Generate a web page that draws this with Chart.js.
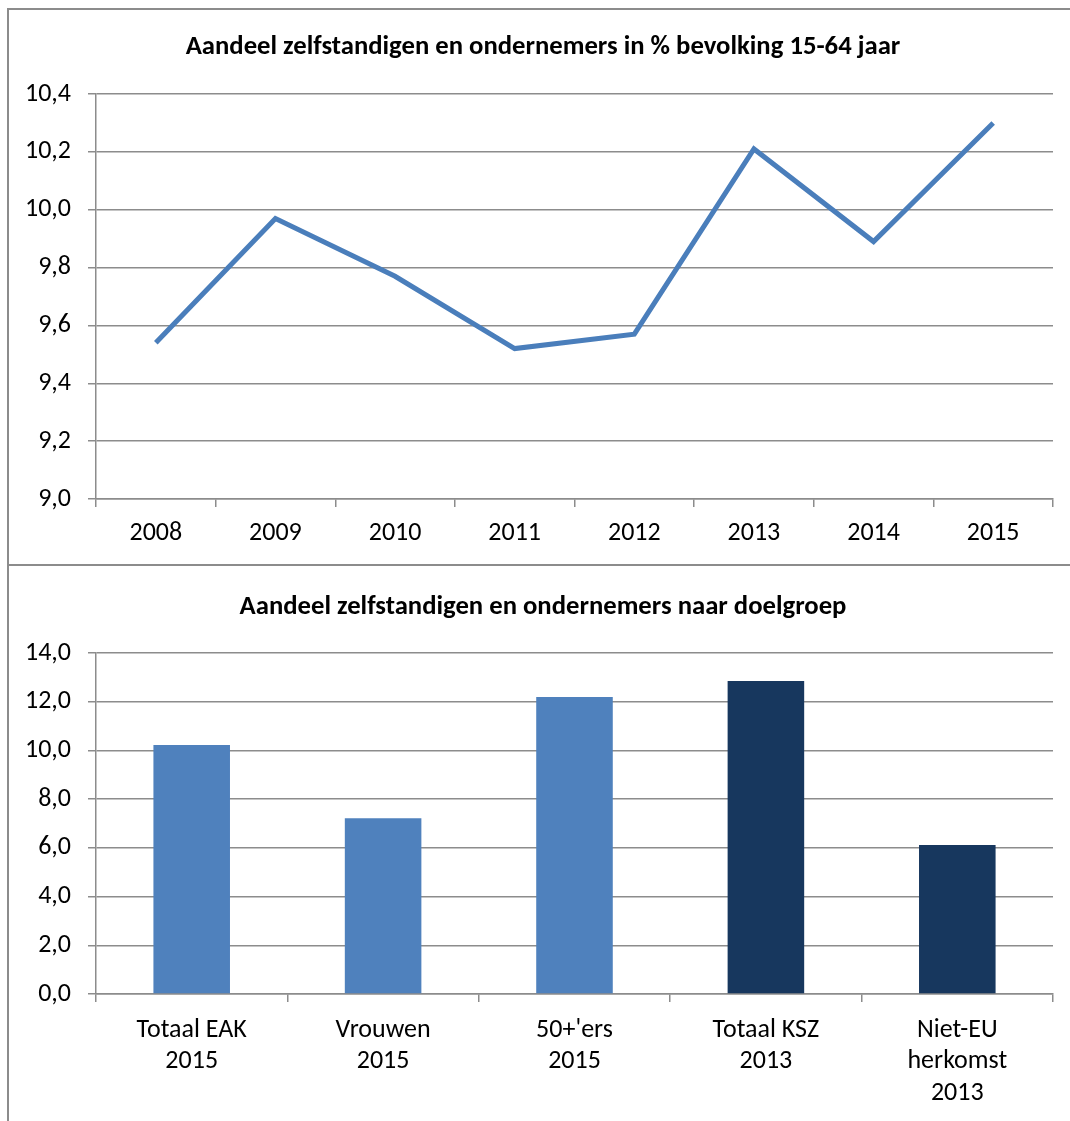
<!DOCTYPE html>
<html><head><meta charset="utf-8">
<script src="https://cdn.jsdelivr.net/npm/chart.js@4/dist/chart.umd.min.js"></script>
<style>
html,body{margin:0;padding:0;background:#fff;}
body{width:1070px;height:1121px;position:relative;overflow:hidden;}
#frame{position:absolute;left:7px;top:8px;width:1100px;height:1200px;border:2px solid #8c8c8c;box-sizing:border-box;}
#sep{position:absolute;left:7px;top:564px;width:1100px;height:2px;background:#8c8c8c;}
#c1{position:absolute;left:0;top:0;}
#c2{position:absolute;left:0;top:566px;}
</style></head>
<body>
<div id="frame"></div><div id="sep"></div>
<canvas id="c1" width="1086" height="566"></canvas>
<canvas id="c2" width="1086" height="555"></canvas>
<script>
const title1 = 'Aandeel zelfstandigen en ondernemers in % bevolking 15-64 jaar';
const years = ['2008','2009','2010','2011','2012','2013','2014','2015'];
const shareValues = [9.54, 9.97, 9.77, 9.52, 9.57, 10.21, 9.89, 10.30];

const title2 = 'Aandeel zelfstandigen en ondernemers naar doelgroep';
const groups = [['Totaal EAK','2015'], ['Vrouwen','2015'], ["50+'ers",'2015'], ['Totaal KSZ','2013'], ['Niet-EU','herkomst','2013']];
const groupValues = [10.22, 7.22, 12.19, 12.85, 6.12];
const groupColors = ['#4F81BD','#4F81BD','#4F81BD','#17375E','#17375E'];

const FONT = "Carlito, Lato, 'Open Sans', sans-serif";
const GRID = '#8c8c8c';
const TICK_SIZE = 26;
const TITLE_SIZE = 26.7;
const fmt = v => Number(v).toFixed(1).replace('.', ',');

Chart.defaults.font.family = FONT;
Chart.defaults.color = '#000';

// invisible right-hand spacer axis so the title centres like the original
const spacer = {
  type: 'linear', position: 'right', display: true,
  grid: { display: false, drawTicks: false }, ticks: { display: false }, border: { display: false },
  afterFit: s => { s.width = 33; }
};

new Chart(document.getElementById('c1'), {
  type: 'line',
  data: { labels: years, datasets: [{ data: shareValues, borderColor: '#4A7EBB', borderWidth: 5, pointRadius: 0, tension: 0, fill: false }] },
  options: {
    responsive: false, animation: false,
    layout: { padding: 0 },
    plugins: {
      legend: { display: false }, tooltip: { enabled: false },
      title: { display: true, text: title1, color: '#000', font: { size: TITLE_SIZE, weight: 'bold', family: FONT, lineHeight: 1.2 }, padding: { top: 31, bottom: 31 } }
    },
    scales: {
      y: {
        min: 9, max: 10.4,
        ticks: { stepSize: 0.2, callback: fmt, font: { size: TICK_SIZE }, color: '#000', padding: 17 },
        grid: { color: GRID, lineWidth: 1.5, tickLength: 8 },
        border: { color: GRID, width: 1.5 },
        afterFit: s => { s.width = 96; }
      },
      yr: spacer,
      x: {
        offset: true,
        ticks: { font: { size: TICK_SIZE, lineHeight: 1.2 }, color: '#000', padding: 11, autoSkip: false, maxRotation: 0 },
        grid: { offset: true, drawOnChartArea: false, tickLength: 8, color: GRID, lineWidth: 1.5 },
        border: { color: GRID, width: 1.5 },
        afterFit: s => { s.height = 67; }
      }
    }
  }
});

new Chart(document.getElementById('c2'), {
  type: 'bar',
  data: { labels: groups, datasets: [{ data: groupValues, backgroundColor: groupColors, barPercentage: 0.4, categoryPercentage: 1.0 }] },
  options: {
    responsive: false, animation: false,
    layout: { padding: 0 },
    plugins: {
      legend: { display: false }, tooltip: { enabled: false },
      title: { display: true, text: title2, color: '#000', font: { size: TITLE_SIZE, weight: 'bold', family: FONT, lineHeight: 1.2 }, padding: { top: 25, bottom: 30 } }
    },
    scales: {
      y: {
        min: 0, max: 14,
        ticks: { stepSize: 2, callback: fmt, font: { size: TICK_SIZE }, color: '#000', padding: 17 },
        grid: { color: GRID, lineWidth: 1.5, tickLength: 8 },
        border: { color: GRID, width: 1.5 },
        afterFit: s => { s.width = 96; }
      },
      yr: Object.assign({}, spacer),
      x: {
        ticks: { font: { size: TICK_SIZE, lineHeight: 1.2 }, color: '#000', padding: 13, autoSkip: false, maxRotation: 0 },
        grid: { offset: true, drawOnChartArea: false, tickLength: 8, color: GRID, lineWidth: 1.5 },
        border: { color: GRID, width: 1.5 },
        afterFit: s => { s.height = 127; }
      }
    }
  }
});
</script>
</body></html>
